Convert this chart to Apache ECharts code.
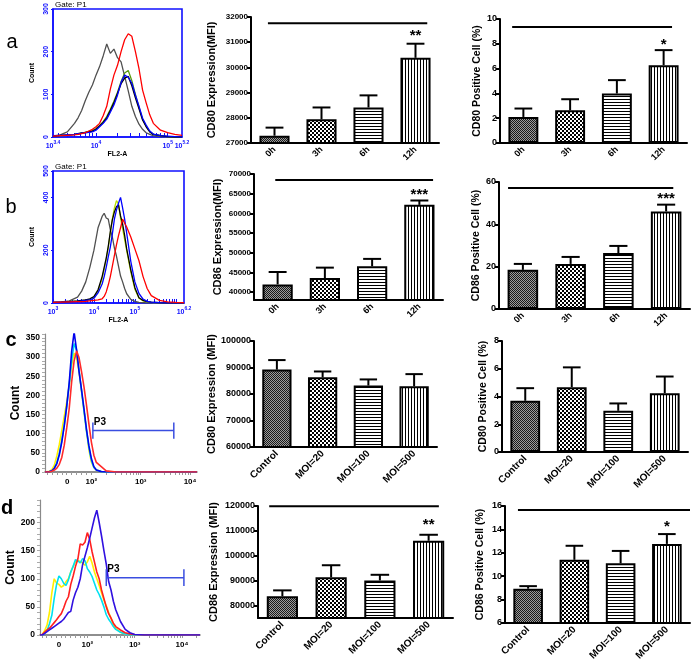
<!DOCTYPE html>
<html><head><meta charset="utf-8">
<script src="https://cdn.jsdelivr.net/npm/echarts@6/dist/echarts.min.js"></script>
<style>html,body{margin:0;padding:0;background:#fff}#c{width:700px;height:668px}</style>
</head><body><div id="c"></div>
<script>
// ================= DATA =================
const timeCats = ['0h', '3h', '6h', '12h'];
const moiCats = ['Control', 'MOI=20', 'MOI=100', 'MOI=500'];

// a: CD80 over time
const cd80MfiTime = [27290, 27940, 28410, 30380];
const cd80MfiTimeSem = [320, 470, 480, 560];
const cd80PctTime = [2.10, 2.64, 3.99, 6.28];
const cd80PctTimeSem = [0.68, 0.89, 1.08, 1.21];
// b: CD86 over time
const cd86MfiTime = [41960, 43580, 46560, 62160];
const cd86MfiTimeSem = [3150, 2640, 1880, 1110];
const cd86PctTime = [18.5, 21.3, 26.4, 46.1];
const cd86PctTimeSem = [2.8, 3.3, 3.4, 3.2];
// c: CD80 vs MOI
const cd80MfiMoi = [89200, 86300, 83200, 82900];
const cd80MfiMoiSem = [3600, 2200, 2300, 4600];
const cd80PctMoi = [3.69, 4.67, 2.97, 4.24];
const cd80PctMoiSem = [0.91, 1.43, 0.53, 1.20];
// d: CD86 vs MOI
const cd86MfiMoi = [83700, 91400, 90100, 106050];
const cd86MfiMoiSem = [2400, 4800, 2260, 2390];
const cd86PctMoi = [8.93, 11.4, 11.1, 12.76];
const cd86PctMoiSem = [0.22, 1.2, 1.06, 0.84];

// significance bars: [level, stars]
const sigA_mfi = [31750, '**'];
const sigA_pct = [9.36, '*'];
const sigB_mfi = [68500, '***'];
const sigB_pct = [57.2, '***'];
const sigD_mfi = [119900, '**'];
const sigD_pct = [15.66, '*'];

// tick labels
const mfiTicksB = [40000, 45000, 50000, 55000, 60000, 65000, 70000];
const mfiTicksD = [80000, 90000, 100000, 110000, 120000];
const histA_xTicks = [3.4, 4, 5, 5.2];
const histB_xTicks = [3, 4, 5, 6.2];
const histB_yTicks = [0, 200, 400, 500];
const histC_yTicks = [0, 50, 100, 150, 200, 250, 300, 350];
const histD_yTicks = [0, 50, 100, 150, 200];
const histC_xTickPos = [1.51, 2, 3, 4];
const histD_xTickPos = [1.40, 2, 3, 4];
const histCD_xTickText = ['0', '10²', '10³', '10⁴'];

// histogram a (FL2-A, log10 units)
const histA_x = [3.40,3.50,3.60,3.70,3.75,3.80,3.85,3.90,3.95,4.00,4.05,4.10,4.15,4.20,4.25,4.30,4.35,4.40,4.45,4.50,4.55,4.60,4.65,4.70,4.75,4.80,4.90,5.00,5.10,5.20];
const histA_gray  = [2,5,12,32,45,62,85,105,122,145,165,190,218,196,206,186,176,142,108,72,48,30,18,10,6,3,1,0,0,0];
const histA_green = [2,3,4,6,8,10,11,13,15,20,27,36,48,65,84,105,130,150,156,132,100,70,42,25,13,6,3,1,0,0];
const histA_black = [2,4,5,6,7,9,11,12,14,18,26,34,45,62,80,102,125,138,142,120,92,66,40,24,12,6,3,1,0,0];
const histA_blue  = [3,4,5,6,8,9,10,11,12,16,24,32,42,58,75,98,128,145,140,126,98,72,44,28,14,7,3,2,1,0];
const histA_red   = [2,3,4,5,6,8,10,14,18,24,32,50,72,112,145,168,200,228,242,236,200,160,110,80,52,32,16,10,6,4];

// histogram b
const histB_x = [3.0,3.2,3.4,3.6,3.7,3.8,3.9,4.0,4.1,4.2,4.25,4.3,4.35,4.4,4.45,4.5,4.55,4.6,4.65,4.7,4.75,4.8,4.9,5.0,5.1,5.2,5.3,5.4,5.6,5.8,6.0,6.2];
const histB_gray  = [2,4,8,22,45,80,135,200,285,328,340,322,318,278,250,208,178,140,102,80,55,35,14,6,2,1,0,0,0,0,0,0];
const histB_black = [2,3,5,8,10,12,16,24,50,100,135,170,215,270,315,345,365,372,330,300,256,205,125,58,20,10,5,3,1,0,0,0];
const histB_green = [2,3,5,7,9,11,14,22,45,92,128,165,210,265,320,360,388,375,320,282,240,198,118,52,18,8,4,2,1,0,0,0];
const histB_blue  = [2,3,4,6,8,10,12,18,38,72,100,135,175,212,262,318,352,378,400,360,318,265,158,80,36,15,6,3,1,0,0,0];
const histB_red   = [2,3,4,5,5,6,8,10,12,16,25,42,68,100,140,180,220,255,285,318,302,288,250,205,160,100,55,28,10,4,2,1];

// histogram c (display scale: 10^2 -> 2, 10^3 -> 3, 10^4 -> 4)
const histC_x = [1.06,1.15,1.2,1.25,1.3,1.35,1.4,1.45,1.5,1.55,1.6,1.65,1.7,1.75,1.8,1.85,1.9,1.95,2.0,2.05,2.1,2.2,2.3,2.5,3.0,3.5,4.14];
const histC_yellow = [0,2,6,18,42,72,108,145,182,225,278,310,298,262,210,160,108,58,26,12,5,1,0,0,0,0,0];
const histC_cyan   = [0,1,3,10,24,48,82,122,170,228,290,335,318,265,212,160,108,64,30,12,5,1,0,0,0,0,0];
const histC_blue   = [0,1,3,10,22,45,78,120,172,232,315,365,318,262,215,165,112,68,35,14,5,1,0,0,0,0,0];
const histC_red    = [0,0,2,5,10,20,38,70,115,165,235,290,316,298,262,222,175,125,78,44,25,14,3,0,0,0,0];
const gateC = [2.03, 3.67, 108, 21];   // from, to, level, cap half-height

// histogram d
const histD_x = [1.0,1.05,1.1,1.15,1.2,1.25,1.3,1.35,1.4,1.45,1.5,1.55,1.6,1.65,1.7,1.75,1.8,1.85,1.9,1.95,2.0,2.05,2.1,2.15,2.2,2.25,2.3,2.35,2.4,2.45,2.5,2.55,2.6,2.7,2.8,2.9,3.0,3.2,3.5,4.0,4.38];
const histD_yellow = [0,1,8,18,40,75,100,92,90,85,88,95,100,112,122,130,132,131,128,124,130,140,128,112,100,88,75,62,52,40,30,18,12,5,2,1,0,0,0,0,0];
const histD_cyan   = [0,0,3,8,20,35,65,90,105,100,92,88,98,112,122,134,132,128,136,132,118,112,104,92,80,72,62,50,36,28,22,15,10,5,2,0,0,0,0,0,0];
const histD_red    = [0,1,5,9,12,17,22,27,33,38,48,60,68,90,105,122,135,162,160,165,182,170,148,130,112,100,80,65,50,38,30,21,15,9,4,2,1,0,0,0,0];
const histD_blue   = [0,0,3,6,9,12,15,18,21,24,28,34,40,42,62,75,85,100,125,140,155,172,190,208,222,200,176,150,126,95,80,60,45,24,10,4,1,0,0,0,0];
const gateD = [2.40, 4.04, 102, 15];

// ================= STYLE / BUILD =================
const FONT = '"Liberation Sans", Arial, sans-serif';
const grids = [], xAxes = [], yAxes = [], series = [], graphics = [];

function pattern(kind) {
  const c = document.createElement('canvas');
  const dims = [[2,2],[4,4],[1,3],[3,1]][kind];
  c.width = dims[0]; c.height = dims[1];
  const g = c.getContext('2d');
  g.fillStyle = '#fff'; g.fillRect(0, 0, c.width, c.height);
  if (kind === 0) {
    g.fillStyle = '#1a1a1a'; g.fillRect(0,0,1,1); g.fillRect(1,1,1,1);
    g.fillStyle = '#9c9c9c'; g.fillRect(1,0,1,1); g.fillRect(0,1,1,1);
  } else if (kind === 1) {
    g.fillStyle = '#000'; g.fillRect(0,0,2,2); g.fillRect(2,2,2,2);
  } else {
    g.fillStyle = '#000'; g.fillRect(0,0,1,1);
  }
  return { image: c, repeat: 'repeat' };
}
const pats = [pattern(0), pattern(1), pattern(2), pattern(3)];
const plainNum = v => String(v);

function barPanel(p) {
  const gi = grids.length;
  grids.push(Object.assign({ outerBoundsMode: 'none', containLabel: false }, p.grid));
  xAxes.push({
    type: 'category', gridIndex: gi, data: p.cats,
    axisLine: { lineStyle: { color: '#000', width: 2 } },
    axisTick: { alignWithLabel: true, length: 4, lineStyle: { color: '#000', width: 2 } },
    axisLabel: { rotate: 45, fontSize: p.catFont, fontWeight: 'bold', color: '#000', fontFamily: FONT, margin: 5, interval: 0 }
  });
  const ya = {
    type: 'value', gridIndex: gi, min: p.min, max: p.max,
    name: p.name, nameLocation: 'middle', nameGap: p.nameGap,
    nameTextStyle: { fontSize: p.nameFont, fontWeight: 'bold', color: '#000', fontFamily: FONT },
    axisLine: { show: true, lineStyle: { color: '#000', width: 2 } },
    axisTick: { show: true, length: 4, lineStyle: { color: '#000', width: 2 } },
    axisLabel: { fontSize: p.tickFont, fontWeight: 'bold', color: '#000', fontFamily: FONT, margin: 3, formatter: plainNum },
    splitLine: { show: false }
  };
  if (p.interval) ya.interval = p.interval;
  else { ya.axisLabel.customValues = p.ticks; ya.axisTick.customValues = p.ticks; }
  yAxes.push(ya);
  series.push({
    type: 'bar', xAxisIndex: gi, yAxisIndex: gi, barWidth: '64%', silent: true,
    itemStyle: { borderColor: '#000', borderWidth: 2 },
    data: p.vals.map((v, i) => ({ value: v, itemStyle: { color: pats[i] } }))
  });
  series.push({
    type: 'custom', xAxisIndex: gi, yAxisIndex: gi, z: 3, silent: true,
    data: p.vals.map((v, i) => [i, v, v + p.sems[i]]),
    renderItem: function (params, api) {
      const p0 = api.coord([api.value(0), api.value(1)]);
      const p1 = api.coord([api.value(0), api.value(2)]);
      const w = api.size([1, 0])[0] * 0.38;
      return { type: 'group', children: [
        { type: 'line', shape: { x1: p0[0], y1: p0[1], x2: p1[0], y2: p1[1] }, style: { stroke: '#000', lineWidth: 2 } },
        { type: 'line', shape: { x1: p1[0] - w / 2, y1: p1[1], x2: p1[0] + w / 2, y2: p1[1] }, style: { stroke: '#000', lineWidth: 2 } }
      ] };
    }
  });
  if (p.sig) {
    const last = p.vals.length - 1;
    series.push({
      type: 'custom', xAxisIndex: gi, yAxisIndex: gi, z: 4, silent: true,
      data: [[last, p.sig[0], p.vals[last] + p.sems[last]]],
      renderItem: function (params, api) {
        const bw = api.size([1, 0])[0];
        const a = api.coord([0, api.value(1)]);
        const b = api.coord([api.value(0), api.value(1)]);
        const s = api.coord([api.value(0), api.value(2)]);
        return { type: 'group', children: [
          { type: 'line', shape: { x1: a[0] + p.sigSpan[0] * bw, y1: a[1], x2: b[0] + p.sigSpan[1] * bw, y2: b[1] }, style: { stroke: '#000', lineWidth: 2 } },
          { type: 'text', style: { x: s[0], y: s[1] + p.starDy, text: p.sig[1], fill: '#000', font: 'bold 15px ' + FONT, align: 'center', verticalAlign: 'bottom' } }
        ] };
      }
    });
  }
}

function logMinor(lo, hi) {
  const out = [];
  for (let d = Math.floor(lo); d <= Math.ceil(hi); d++) {
    for (let k = 1; k <= 9; k++) {
      const v = d + Math.log10(k);
      if (v >= lo - 1e-9 && v <= hi + 1e-9) out.push(+v.toFixed(4));
    }
  }
  return out;
}

function flowPanel(p) {
  const gi = grids.length;
  grids.push(Object.assign({ outerBoundsMode: 'none', containLabel: false, show: true, borderColor: '#1010ff', borderWidth: 1.6, backgroundColor: 'transparent' }, p.grid));
  xAxes.push({
    type: 'value', gridIndex: gi, min: p.xmin, max: p.xmax,
    name: 'FL2-A', nameLocation: 'middle', nameGap: 12,
    nameTextStyle: { fontSize: 7, fontWeight: 'bold', color: '#000', fontFamily: FONT },
    axisLine: { show: true, lineStyle: { color: '#1010ff', width: 1.5 } },
    axisTick: { show: true, inside: true, length: 4, customValues: logMinor(p.xmin, p.xmax), lineStyle: { color: '#1010ff', width: 1 } },
    axisLabel: {
      customValues: p.xTicks, color: '#1010ff', margin: 3, fontFamily: FONT,
      formatter: v => '{b|10}{s|' + (+v.toFixed(1)) + '}',
      rich: { b: { fontSize: 7, fontWeight: 'bold', color: '#1010ff', verticalAlign: 'bottom', lineHeight: 10 },
              s: { fontSize: 5, fontWeight: 'bold', color: '#1010ff', verticalAlign: 'top', lineHeight: 10 } }
    },
    splitLine: { show: false }
  });
  const ya = {
    type: 'value', gridIndex: gi, min: 0, max: p.ymax,
    name: 'Count', nameLocation: 'middle', nameGap: 17,
    nameTextStyle: { fontSize: 7, fontWeight: 'bold', color: '#000', fontFamily: FONT },
    axisLine: { show: true, lineStyle: { color: '#1010ff', width: 1.5 } },
    axisTick: { show: true, length: 2, lineStyle: { color: '#1010ff' } },
    axisLabel: { rotate: 90, fontSize: 7, fontWeight: 'bold', color: '#1010ff', fontFamily: FONT, margin: 3 },
    splitLine: { show: false }
  };
  if (p.yInterval) ya.interval = p.yInterval;
  else { ya.axisLabel.customValues = p.yTicks; ya.axisTick.customValues = p.yTicks; }
  yAxes.push(ya);
  p.curves.forEach(c => series.push({
    type: 'line', xAxisIndex: gi, yAxisIndex: gi, showSymbol: false, silent: true,
    lineStyle: { color: c[1], width: 1.3 }, itemStyle: { color: c[1] },
    data: p.x.map((x, i) => [x, c[0][i]])
  }));
  graphics.push({ type: 'text', x: p.grid.left + 2, y: p.grid.top - 4, style: { text: 'Gate: P1', fill: '#000', font: '8px ' + FONT, textAlign: 'left', textVerticalAlign: 'middle', align: 'left', verticalAlign: 'middle' } });
}

function plainPanel(p) {
  const gi = grids.length;
  grids.push(Object.assign({ outerBoundsMode: 'none', containLabel: false }, p.grid));
  const xMinor = [];
  for (let t = p.xmin + 0.04; t < p.xTickPos[1]; t += 0.1) xMinor.push(+t.toFixed(3));
  logMinor(2, p.xmax).forEach(v => xMinor.push(v));
  xAxes.push({
    type: 'value', gridIndex: gi, min: p.xmin, max: p.xmax,
    axisLine: { show: true, lineStyle: { color: '#6a6a6a', width: 1.5 } },
    axisTick: { show: true, length: 3, customValues: xMinor, lineStyle: { color: '#9a9a9a', width: 1 } },
    axisLabel: {
      customValues: p.xTickPos, fontSize: 8, fontWeight: 'bold', color: '#000', fontFamily: FONT, margin: 6,
      formatter: v => { const i = p.xTickPos.findIndex(u => Math.abs(u - v) < 1e-6); return i >= 0 ? histCD_xTickText[i] : ''; }
    },
    splitLine: { show: false }
  });
  const yMinor = [];
  for (let v = 0; v <= p.ymax; v += 10) yMinor.push(v);
  yAxes.push({
    type: 'value', gridIndex: gi, min: 0, max: p.ymax,
    name: 'Count', nameLocation: 'middle', nameGap: p.nameGap,
    nameTextStyle: { fontSize: 12, fontWeight: 'bold', color: '#000', fontFamily: FONT },
    axisLine: { show: true, lineStyle: { color: '#8a8a8a', width: 1.2 } },
    axisTick: { show: true, length: 3, customValues: yMinor, lineStyle: { color: '#aaa', width: 1 } },
    axisLabel: { customValues: p.yTicks, fontSize: 8.5, fontWeight: 'bold', color: '#000', fontFamily: FONT, margin: 5 },
    splitLine: { show: false }
  });
  p.curves.forEach(c => series.push({
    type: 'line', xAxisIndex: gi, yAxisIndex: gi, showSymbol: false, silent: true,
    lineStyle: { color: c[1], width: 1.6 }, itemStyle: { color: c[1] },
    data: p.x.map((x, i) => [x, c[0][i]])
  }));
  const g = p.gate;
  series.push({
    type: 'custom', xAxisIndex: gi, yAxisIndex: gi, z: 5, silent: true,
    data: [[g[0], g[2], g[1], g[3]]],
    renderItem: function (params, api) {
      const a = api.coord([api.value(0), api.value(1)]);
      const b = api.coord([api.value(2), api.value(1)]);
      const h = api.size([0, api.value(3)])[1];
      const st = { stroke: '#3a4ee0', lineWidth: 1.5 };
      return { type: 'group', children: [
        { type: 'line', shape: { x1: a[0], y1: a[1], x2: b[0], y2: b[1] }, style: st },
        { type: 'line', shape: { x1: a[0], y1: a[1] - h, x2: a[0], y2: a[1] + h }, style: st },
        { type: 'line', shape: { x1: b[0], y1: b[1] - h, x2: b[0], y2: b[1] + h }, style: st },
        { type: 'text', style: { x: a[0] + 1, y: a[1] - 3, text: 'P3', fill: '#000', font: 'bold 10px ' + FONT, align: 'left', verticalAlign: 'bottom' } }
      ] };
    }
  });
}

// ---------- row a ----------
flowPanel({ grid: { left: 53, top: 9, width: 129, height: 128 }, xmin: 3.4, xmax: 5.2, xTicks: histA_xTicks, ymax: 300, yInterval: 100, x: histA_x,
  curves: [[histA_gray, '#505050'], [histA_green, '#5a9a10'], [histA_black, '#000'], [histA_blue, '#0000ff'], [histA_red, '#ff0000']] });
barPanel({ grid: { left: 251, top: 17, width: 188, height: 126 }, cats: timeCats, vals: cd80MfiTime, sems: cd80MfiTimeSem,
  min: 27000, max: 32000, interval: 1000, name: 'CD80 Expression(MFI)', nameGap: 34, nameFont: 11, tickFont: 8, catFont: 9,
  sig: sigA_mfi, sigSpan: [-0.14, 0.25], starDy: 0 });
barPanel({ grid: { left: 500, top: 19, width: 187, height: 124 }, cats: timeCats, vals: cd80PctTime, sems: cd80PctTimeSem,
  min: 0, max: 10, interval: 2, name: 'CD80 Positive Cell (%)', nameGap: 12, nameFont: 10.5, tickFont: 9, catFont: 9,
  sig: sigA_pct, sigSpan: [-0.24, 0.18], starDy: 2 });

// ---------- row b ----------
flowPanel({ grid: { left: 53, top: 171, width: 131, height: 132 }, xmin: 3, xmax: 6.2, xTicks: histB_xTicks, ymax: 500, yTicks: histB_yTicks, x: histB_x,
  curves: [[histB_gray, '#505050'], [histB_green, '#b8e000'], [histB_black, '#000'], [histB_blue, '#0000ff'], [histB_red, '#ff0000']] });
barPanel({ grid: { left: 254, top: 174, width: 189, height: 126 }, cats: timeCats, vals: cd86MfiTime, sems: cd86MfiTimeSem,
  min: 38000, max: 70000, ticks: mfiTicksB, name: 'CD86 Expression(MFI)', nameGap: 31, nameFont: 11, tickFont: 8, catFont: 9,
  sig: sigB_mfi, sigSpan: [-0.05, 0.29], starDy: 2 });
barPanel({ grid: { left: 499, top: 182, width: 191, height: 127 }, cats: timeCats, vals: cd86PctTime, sems: cd86PctTimeSem,
  min: 0, max: 60, interval: 20, name: 'CD86 Positive Cell (%)', nameGap: 16, nameFont: 10.5, tickFont: 9, catFont: 9,
  sig: sigB_pct, sigSpan: [-0.31, 0.15], starDy: 2 });

// ---------- row c ----------
plainPanel({ grid: { left: 45, top: 334, width: 152, height: 138 }, xmin: 1.06, xmax: 4.14, xTickPos: histC_xTickPos, ymax: 360, yTicks: histC_yTicks, nameGap: 21, x: histC_x,
  curves: [[histC_yellow, '#ffee00'], [histC_cyan, '#00d8f0'], [histC_blue, '#0000ee'], [histC_red, '#ff2a2a']], gate: gateC });
barPanel({ grid: { left: 254, top: 341, width: 183, height: 106 }, cats: moiCats, vals: cd80MfiMoi, sems: cd80MfiMoiSem,
  min: 60000, max: 100000, interval: 10000, name: 'CD80 Expression (MFI)', nameGap: 35, nameFont: 11, tickFont: 9, catFont: 10 });
barPanel({ grid: { left: 502, top: 341, width: 186, height: 111 }, cats: moiCats, vals: cd80PctMoi, sems: cd80PctMoiSem,
  min: 0, max: 8, interval: 2, name: 'CD80 Positive Cell (%)', nameGap: 13, nameFont: 10.5, tickFont: 9, catFont: 10 });

// ---------- row d ----------
plainPanel({ grid: { left: 40, top: 500, width: 160, height: 135 }, xmin: 1.0, xmax: 4.38, xTickPos: histD_xTickPos, ymax: 240, yTicks: histD_yTicks, nameGap: 19, x: histD_x,
  curves: [[histD_yellow, '#ffee00'], [histD_cyan, '#00e0f0'], [histD_red, '#ff2020'], [histD_blue, '#3010e0']], gate: gateD });
barPanel({ grid: { left: 258, top: 506, width: 195, height: 112 }, cats: moiCats, vals: cd86MfiMoi, sems: cd86MfiMoiSem,
  min: 75000, max: 120000, ticks: mfiTicksD, name: 'CD86 Expression (MFI)', nameGap: 39, nameFont: 11, tickFont: 9, catFont: 10,
  sig: sigD_mfi, sigSpan: [-0.27, 0.21], starDy: -2 });
barPanel({ grid: { left: 505, top: 506, width: 185, height: 117 }, cats: moiCats, vals: cd86PctMoi, sems: cd86PctMoiSem,
  min: 6, max: 16, interval: 2, name: 'CD86 Positive Cell (%)', nameGap: 19, nameFont: 10.5, tickFont: 9, catFont: 10,
  sig: sigD_pct, sigSpan: [-0.22, 0.5], starDy: 0 });

// panel letters
[['a', 12, 42, 'normal'], ['b', 11, 207, 'normal'], ['c', 11, 340, 'bold'], ['d', 7, 508, 'bold']].forEach(l => {
  graphics.push({ type: 'text', x: l[1], y: l[2], style: { text: l[0], fill: '#000', font: l[3] + ' 20px ' + FONT, textAlign: 'center', textVerticalAlign: 'middle', align: 'center', verticalAlign: 'middle' } });
});

const chart = echarts.init(document.getElementById('c'), null, { renderer: 'canvas', width: 700, height: 668 });
chart.setOption({
  animation: false,
  backgroundColor: '#fff',
  textStyle: { fontFamily: FONT },
  grid: grids, xAxis: xAxes, yAxis: yAxes, series: series, graphic: graphics
});
</script></body></html>
